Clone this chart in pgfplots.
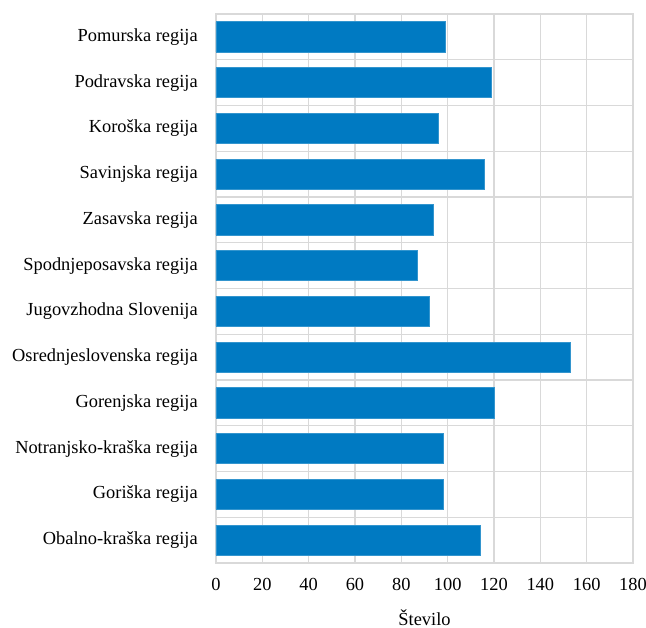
\documentclass[border=0pt]{standalone}
\usepackage{pgfplots}
\pgfplotsset{compat=1.18}
\usepackage{fontspec}
\setmainfont{Liberation Serif}
\definecolor{barblue}{RGB}{0,122,194}
\definecolor{gridgray}{RGB}{217,217,217}
\begin{document}
\fontsize{18.4}{21}\selectfont
\begin{tikzpicture}
\begin{axis}[
  scale only axis,
  width=417pt, height=549pt,
  xbar, bar width=0.66,
  xmin=0, xmax=180,
  xtick={0,20,...,180},
  ymin=-0.5, ymax=11.5,
  y dir=reverse,
  ytick={0,...,11},
  yticklabels={Pomurska regija,Podravska regija,Koroška regija,Savinjska regija,Zasavska regija,Spodnjeposavska regija,Jugovzhodna Slovenija,Osrednjeslovenska regija,Gorenjska regija,Notranjsko-kraška regija,Goriška regija,Obalno-kraška regija},
  minor ytick={0.5,1.5,...,10.5},
  xmajorgrids, yminorgrids,
  grid style={gridgray, line width=1.3pt},
  minor grid style={gridgray, line width=1.3pt},
  axis line style={gridgray, line width=1.3pt},
  major tick length=0pt, minor tick length=0pt,
  tick style={draw=none},
  /pgf/number format/assume math mode=true,
  ticklabel style={font=\fontsize{18.4}{21}\selectfont},
  xticklabel style={yshift=-8.5pt},
  yticklabel style={xshift=-12pt},
  xlabel={Število},
  xlabel style={font=\fontsize{18.4}{21}\selectfont, yshift=-6.5pt},
]
\addplot[fill=barblue, draw=barblue!80!white, line width=0.6pt] coordinates {
  (99,0) (119,1) (96,2) (116,3) (94,4) (87,5) (92,6) (153,7) (120,8) (98,9) (98,10) (114,11)
};
\coordinate (T) at (rel axis cs:0,1);
\coordinate (B) at (rel axis cs:1,0);
\end{axis}
\pgfresetboundingbox
\path[use as bounding box] ([xshift=-216pt, yshift=14pt]T) rectangle ([xshift=13pt, yshift=-65pt]B);
\end{tikzpicture}
\end{document}
